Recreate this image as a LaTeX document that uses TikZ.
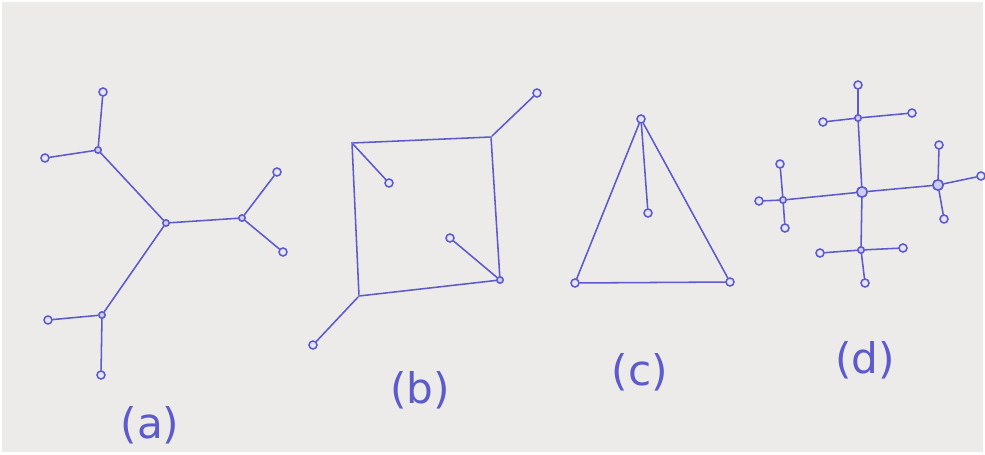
\documentclass[tikz,border=0pt]{standalone}
\usepackage{fontspec}
\setmainfont{DejaVu Sans}
\definecolor{ink}{RGB}{92,90,205}
\definecolor{paper}{RGB}{236,235,233}

\begin{document}
\begin{tikzpicture}[
    x=0.025cm, y=-0.025cm,
    % Vertex styles (leaves, hubs and labels)
    leaf/.style={circle, draw=ink, line width=1.1pt, fill=ink!15, minimum size=0.2cm, inner sep=0pt},
    hub/.style={circle, draw=ink, line width=1.1pt, fill=ink!30, minimum size=0.16cm, inner sep=0pt},
    bighub/.style={circle, draw=ink, line width=1.2pt, fill=ink!30, minimum size=0.26cm, inner sep=0pt},
    corner/.style={circle, fill=ink, minimum size=0.06cm, inner sep=0pt},
    caption/.style={text=ink, font=\fontsize{30}{30}\selectfont},
    edge/.style={draw=ink, line width=1.1pt, line cap=round}
]

% ---------------------------------------------------------
% 0. PAPER
% ---------------------------------------------------------
\fill[white] (0,0) rectangle (985,454);
\fill[paper] (2,2) rectangle (983,452);
\useasboundingbox (0,0) rectangle (985,454);

% ---------------------------------------------------------
% 1. VERTICES (Nodes)
% ---------------------------------------------------------
% --- (a) tree ---
\node[hub] (ac) at (166,223) {};
\node[hub] (au) at (98,150) {};
\node[leaf] (aut) at (103,92) {};
\node[leaf] (aul) at (45,158) {};
\node[hub] (ar) at (242,218) {};
\node[leaf] (art) at (277,172) {};
\node[leaf] (arb) at (283,252) {};
\node[hub] (al) at (102,315) {};
\node[leaf] (all) at (48,320) {};
\node[leaf] (alb) at (101,375) {};

% --- (b) square ---
\node[corner] (btl) at (352,143) {};
\node[corner] (btr) at (491,137) {};
\node[hub] (bbr) at (500,280) {};
\node[corner] (bbl) at (359,296) {};
\node[leaf] (btrl) at (537,93) {};
\node[leaf] (btll) at (389,183) {};
\node[leaf] (bbrl) at (450,238) {};
\node[leaf] (bbll) at (313,345) {};

% --- (c) triangle ---
\node[leaf] (ct) at (641,119) {};
\node[leaf] (cbl) at (575,283) {};
\node[leaf] (cbr) at (730,282) {};
\node[leaf] (ci) at (648,213) {};

% --- (d) cross ---
\node[bighub] (dc) at (862,192) {};
\node[hub] (du) at (858,118) {};
\node[leaf] (dut) at (858,85) {};
\node[leaf] (dul) at (823,122) {};
\node[leaf] (dur) at (912,113) {};
\node[hub] (dl) at (783,200) {};
\node[leaf] (dll) at (759,201) {};
\node[leaf] (dlt) at (780,164) {};
\node[leaf] (dlb) at (785,228) {};
\node[bighub] (dr) at (938,185) {};
\node[leaf] (drr) at (981,176) {};
\node[leaf] (drt) at (939,145) {};
\node[leaf] (drb) at (944,219) {};
\node[hub] (dd) at (861,250) {};
\node[leaf] (ddl) at (820,253) {};
\node[leaf] (ddr) at (903,248) {};
\node[leaf] (ddb) at (865,283) {};

% ---------------------------------------------------------
% 2. EDGES
% ---------------------------------------------------------
\foreach \u/\v in {ac/au, au/aut, au/aul, ac/ar, ar/art, ar/arb, ac/al, al/all, al/alb}
    \draw[edge] (\u) -- (\v);

\foreach \u/\v in {btl/btr, btr/bbr, bbr/bbl, bbl/btl, btr/btrl, btl/btll, bbr/bbrl, bbl/bbll}
    \draw[edge] (\u) -- (\v);

\foreach \u/\v in {ct/cbl, cbl/cbr, cbr/ct, ct/ci}
    \draw[edge] (\u) -- (\v);

\foreach \u/\v in {dc/du, du/dut, du/dul, du/dur, dc/dl, dl/dll, dl/dlt, dl/dlb,
                   dc/dr, dr/drr, dr/drt, dr/drb, dc/dd, dd/ddl, dd/ddr, dd/ddb}
    \draw[edge] (\u) -- (\v);

% ---------------------------------------------------------
% 3. CAPTIONS
% ---------------------------------------------------------
\node[caption] (capa) at (150,425) {(a)};
\node[caption] (capb) at (420,390) {(b)};
\node[caption] (capc) at (640,372) {(c)};
\node[caption] (capd) at (865,360) {(d)};

\end{tikzpicture}
\end{document}
